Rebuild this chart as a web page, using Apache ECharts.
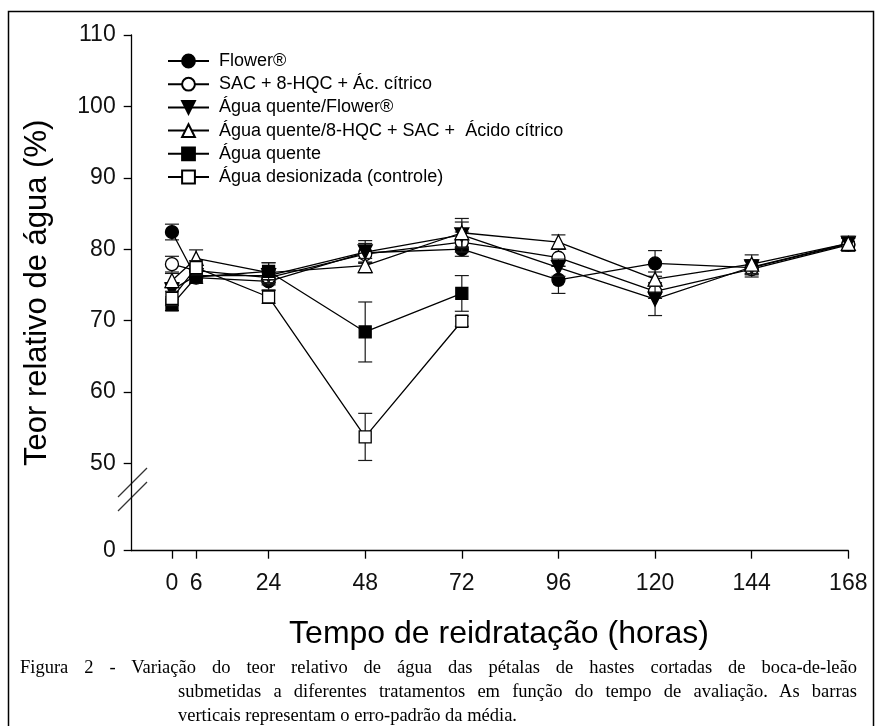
<!DOCTYPE html>
<html lang="pt">
<head>
  <meta charset="UTF-8">
  <title>Teor relativo de água</title>
  <script src="https://cdn.jsdelivr.net/npm/echarts@6/dist/echarts.min.js"></script>
  <style>
    * { margin: 0; padding: 0; }
    body { background: #fff; }
    #wrap { position: relative; width: 875px; height: 726px; overflow: hidden; }
    #chart { position: absolute; left: 0; top: 0; width: 875px; height: 726px; }
    .cap {
      position: absolute;
      font-family: "Liberation Serif", "Times New Roman", serif;
      font-size: 18.5px;
      line-height: 24px;
      color: #000;
    }
    .just { text-align: justify; text-align-last: justify; }
  </style>
</head>
<body>
  <div id="wrap">
    <div id="chart"></div>
    <div class="cap just" style="left:20px;top:655px;width:837px">Figura 2 - Variação do teor relativo de água das pétalas de hastes cortadas de boca-de-leão</div>
    <div class="cap just" style="left:178px;top:679px;width:679px">submetidas a diferentes tratamentos em função do tempo de avaliação. As barras</div>
    <div class="cap" style="left:178px;top:703px;width:679px">verticais representam o erro-padrão da média.</div>
  </div>

  <script type="text/javascript">
    // tempo de reidratação (horas)
    const hours = [0, 6, 24, 48, 72, 96, 120, 144, 168]
    const hoursShort = [0, 6, 24, 48, 72]
    const xTicks = [0, 6, 24, 48, 72, 96, 120, 144, 168]
    // eixo y quebrado: o "0" fica desenhado na altura de Y_ZERO
    const Y_ZERO = 37.76
    const yTicks = [Y_ZERO, 50, 60, 70, 80, 90, 100, 110]

    const names = [
      'Flower®',
      'SAC + 8-HQC + Ác. cítrico',
      'Água quente/Flower®',
      'Água quente/8-HQC + SAC +  Ácido cítrico',
      'Água quente',
      'Água desionizada (controle)'
    ]

    // médias
    const flower = [82.4, 76.0, 75.5, 79.5, 80.0, 75.7, 78.0, 77.4, 80.7]
    const sac = [77.9, 77.0, 76.0, 79.3, 81.0, 78.8, 74.1, 77.2, 80.6]
    const quenteFlower = [74.3, 76.3, 76.3, 79.6, 82.0, 77.4, 73.0, 77.5, 80.8]
    const quenteSac = [75.6, 78.7, 76.7, 77.7, 82.3, 81.0, 75.8, 77.9, 80.8]
    const quente = [72.2, 76.1, 76.9, 68.4, 73.8]
    const desionizada = [73.1, 77.4, 73.3, 53.7, 69.9]

    // erro-padrão
    const flowerErr = [1.1, 0.8, 1.2, 1.3, 1.0, 1.9, 1.8, 1.0, 0.9]
    const sacErr = [1.1, 1.0, 1.0, 1.2, 1.4, 1.2, 1.0, 1.1, 0.9]
    const quenteFlowerErr = [1.0, 0.9, 1.0, 1.6, 1.8, 1.2, 2.3, 1.0, 0.9]
    const quenteSacErr = [1.0, 1.2, 1.4, 1.0, 2.0, 1.0, 1.0, 1.3, 1.0]
    const quenteErr = [0.8, 0.9, 1.2, 4.2, 2.5]
    const desionizadaErr = [1.0, 1.0, 0.9, 3.3, 0.7]

    const groups = [
      { x: hours, y: flower, e: flowerErr, symbol: 'circle', fill: '#000', size: 13, rot: 0 },
      { x: hours, y: sac, e: sacErr, symbol: 'circle', fill: '#fff', size: 13, rot: 0 },
      { x: hours, y: quenteFlower, e: quenteFlowerErr, symbol: 'triangle', fill: '#000', size: 14, rot: 180 },
      { x: hours, y: quenteSac, e: quenteSacErr, symbol: 'triangle', fill: '#fff', size: 14, rot: 0 },
      { x: hoursShort, y: quente, e: quenteErr, symbol: 'rect', fill: '#000', size: 12, rot: 0 },
      { x: hoursShort, y: desionizada, e: desionizadaErr, symbol: 'rect', fill: '#fff', size: 12, rot: 0 }
    ]

    const FONT = '"Liberation Sans", Arial, sans-serif'

    function renderErr(params, api) {
      const x = api.value(0), m = api.value(1), e = api.value(2)
      const hi = api.coord([x, m + e])
      const lo = api.coord([x, m - e])
      const st = { stroke: '#1a1a1a', lineWidth: 1.2 }
      return {
        type: 'group',
        children: [
          { type: 'line', shape: { x1: hi[0], y1: hi[1], x2: lo[0], y2: lo[1] }, style: st },
          { type: 'line', shape: { x1: hi[0] - 7, y1: hi[1], x2: hi[0] + 7, y2: hi[1] }, style: st },
          { type: 'line', shape: { x1: lo[0] - 7, y1: lo[1], x2: lo[0] + 7, y2: lo[1] }, style: st }
        ]
      }
    }

    const series = []
    groups.forEach((g, k) => {
      series.push({
        name: 'erro ' + names[k],
        type: 'custom',
        renderItem: renderErr,
        data: g.x.map((h, i) => [h, g.y[i], g.e[i]]),
        encode: { x: 0, y: 1 },
        silent: true,
        z: 2 + k * 2
      })
      series.push({
        name: names[k],
        type: 'line',
        data: g.x.map((h, i) => [h, g.y[i]]),
        symbol: g.symbol,
        symbolSize: g.size,
        symbolRotate: g.rot,
        showAllSymbol: true,
        lineStyle: { color: '#000', width: 1.3 },
        itemStyle: { color: g.fill, borderColor: '#000', borderWidth: 1.3 },
        emphasis: { disabled: true },
        z: 3 + k * 2
      })
    })

    var myChart = echarts.init(document.getElementById('chart'))
    var option = {
      animation: false,
      backgroundColor: '#fff',
      grid: { left: 131.7, right: 26.7, top: 35, bottom: 175.3, containLabel: false },
      legend: {
        orient: 'vertical',
        left: 167,
        top: 52,
        padding: 0,
        itemWidth: 41,
        itemHeight: 16,
        itemGap: 5.2,
        selectedMode: false,
        data: names,
        textStyle: { fontFamily: FONT, fontSize: 18, lineHeight: 18, color: '#000', padding: [0, 0, 0, 5] }
      },
      xAxis: {
        type: 'value',
        min: -10,
        max: 168,
        name: 'Tempo de reidratação (horas)',
        nameLocation: 'middle',
        nameGap: 67,
        nameTextStyle: { fontFamily: FONT, fontSize: 32, color: '#000', padding: [0, 0, 0, 18] },
        splitLine: { show: false },
        axisLine: { onZero: false, lineStyle: { color: '#000', width: 1.3 } },
        axisTick: { customValues: xTicks, length: 8, lineStyle: { color: '#000', width: 1.3 } },
        axisLabel: { customValues: xTicks, margin: 21, fontFamily: FONT, fontSize: 23, color: '#111' }
      },
      yAxis: {
        type: 'value',
        min: Y_ZERO,
        max: 110,
        name: 'Teor relativo de água (%)',
        nameLocation: 'middle',
        nameGap: 79,
        nameTextStyle: { fontFamily: FONT, fontSize: 31, color: '#000' },
        splitLine: { show: false },
        axisLine: { show: true, onZero: false, lineStyle: { color: '#000', width: 1.3 } },
        axisTick: { show: true, customValues: yTicks, length: 8, lineStyle: { color: '#000', width: 1.3 } },
        axisLabel: {
          customValues: yTicks,
          margin: 16,
          fontFamily: FONT,
          fontSize: 23,
          color: '#111',
          formatter: v => (v < 45 ? '0' : String(Math.round(v)))
        }
      },
      graphic: [
        { type: 'rect', silent: true, shape: { x: 8.5, y: 11.5, width: 865, height: 760 }, style: { fill: 'none', stroke: '#000', lineWidth: 1.5 } },
        // sinal de quebra do eixo y
        { type: 'line', silent: true, shape: { x1: 118, y1: 497, x2: 147, y2: 468 }, style: { stroke: '#333', lineWidth: 1.2 } },
        { type: 'line', silent: true, shape: { x1: 118, y1: 511, x2: 147, y2: 482 }, style: { stroke: '#333', lineWidth: 1.2 } }
      ],
      series: series
    }
    myChart.setOption(option)
  </script>
</body>
</html>
